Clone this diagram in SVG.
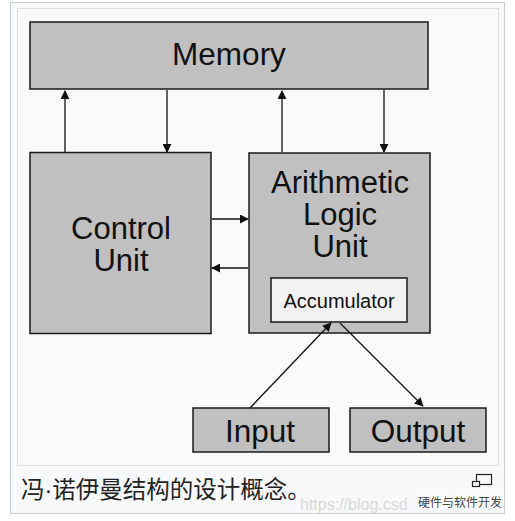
<svg xmlns="http://www.w3.org/2000/svg" width="515" height="521" viewBox="0 0 515 521">
<defs>
<style>
.box{fill:#c0c0c0;stroke:#1a1a1a;stroke-width:1.5}
.acc{fill:#f2f2f2;stroke:#1a1a1a;stroke-width:1.5}
.t{font-family:"Liberation Sans",Arial,sans-serif;fill:#111;text-anchor:middle}
.ln{stroke:#111;stroke-width:1.3;fill:none;marker-end:url(#ah)}
</style>
<marker id="ah" viewBox="0 0 10 10" refX="9" refY="5" markerWidth="9" markerHeight="9" markerUnits="userSpaceOnUse" orient="auto">
<path d="M0,0 L10,5 L0,10 z" fill="#111"/>
</marker>
</defs>
<rect width="515" height="521" fill="#fff"/>
<rect x="10.5" y="2.5" width="494" height="511" fill="#f8f9fa" stroke="#c8ccd1"/>
<rect x="17.5" y="8.5" width="481" height="457" fill="#fafafa" stroke="#e0e0e0"/>
<g id="memory"><rect class="box" x="30" y="22" width="398" height="67"/><text class="t" x="229" y="65" font-size="31.5">Memory</text></g>
<g id="control"><rect class="box" x="30" y="152.5" width="181" height="181"/><text class="t" x="121" y="239" font-size="31">Control</text><text class="t" x="121" y="271" font-size="31">Unit</text></g>
<g id="alu"><rect class="box" x="249" y="153" width="181" height="180"/><text class="t" x="340" y="193" font-size="31">Arithmetic</text><text class="t" x="340" y="225" font-size="31">Logic</text><text class="t" x="340" y="257" font-size="31">Unit</text></g>
<g id="accumulator"><rect class="acc" x="271" y="278" width="136" height="44"/><text class="t" x="339" y="308" font-size="20">Accumulator</text></g>
<g id="input"><rect class="box" x="193" y="408" width="136" height="44"/><text class="t" x="260" y="442" font-size="31.5">Input</text></g>
<g id="output"><rect class="box" x="350" y="408" width="136" height="44"/><text class="t" x="418" y="442" font-size="31.5">Output</text></g>
<g id="connectors">
<line class="ln" x1="65" y1="152" x2="65" y2="91"/>
<line class="ln" x1="167" y1="90" x2="167" y2="152"/>
<line class="ln" x1="282" y1="152" x2="282" y2="91"/>
<line class="ln" x1="384" y1="90" x2="384" y2="152"/>
<line class="ln" x1="212" y1="219" x2="248" y2="219"/>
<line class="ln" x1="248" y1="268" x2="212" y2="268"/>
<line class="ln" x1="250" y1="408" x2="331" y2="323"/>
<line class="ln" x1="340" y1="323" x2="423" y2="406"/>
</g>
<text x="21" y="498" font-size="23.5" font-family="'Liberation Sans','Noto Sans CJK SC',sans-serif" fill="#222">冯·诺伊曼结构的设计概念。</text>
<g fill="none" stroke="#222" stroke-width="1.2"><rect x="476.5" y="474.5" width="15" height="10"/><rect x="472.5" y="481.5" width="7" height="5" fill="#f8f9fa"/></g>
<text x="300" y="510" font-size="16" font-family="'Liberation Sans',Arial,sans-serif" fill="#d8d8d8">https://blog.csd</text>
<text x="418" y="507" font-size="12" font-family="'Noto Sans CJK SC',sans-serif" fill="#444" stroke="#fff" stroke-width="2.5" paint-order="stroke">硬件与软件开发</text>
</svg>
